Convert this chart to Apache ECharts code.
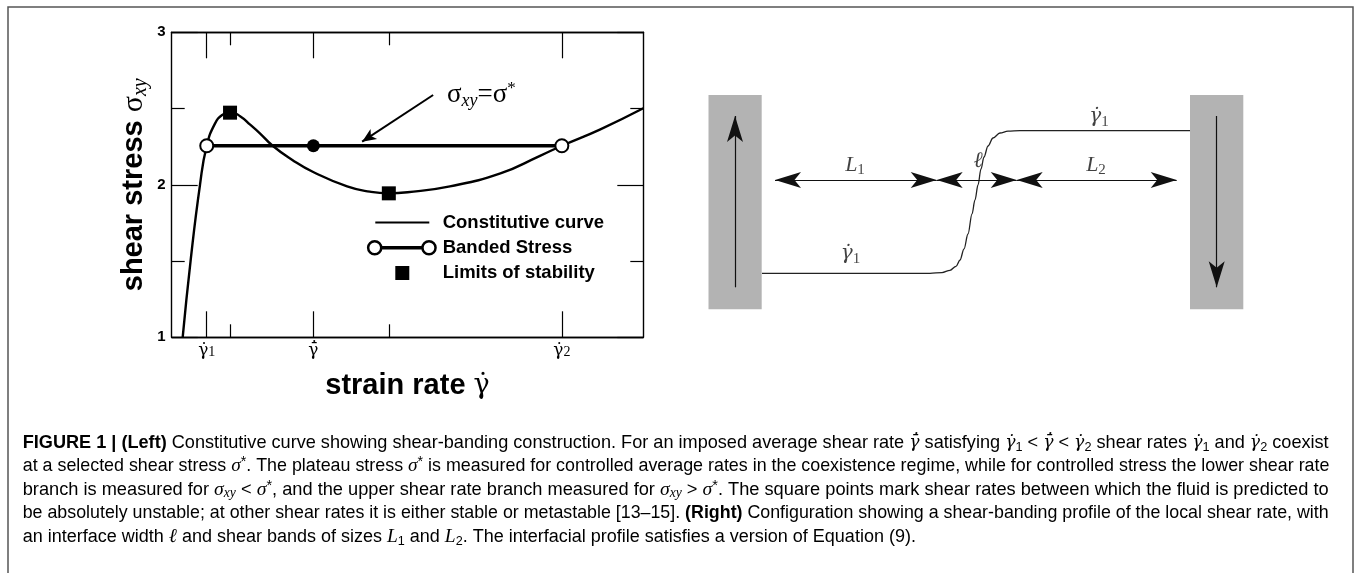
<!DOCTYPE html>
<html>
<head>
<meta charset="utf-8">
<script src="https://cdn.jsdelivr.net/npm/echarts@6.0.0/dist/echarts.min.js"></script>
<style>
html, body { margin: 0; padding: 0; background: #fff; }
#main { width: 1360px; height: 573px; }
</style>
</head>
<body>
<div id="main"></div>
<script>
// left panel: constitutive curve (x: strain rate, y: shear stress)
const rateValues = [0.233, 0.40, 0.60, 0.743, 0.92, 1.08, 1.24, 1.45, 1.67, 1.87, 2.14, 2.55, 3.00, 3.72, 4.20, 4.60, 5.00, 5.90, 6.97, 7.81, 8.273, 9.09, 10.0];
const stressValues = [1.00, 1.50, 2.00, 2.256, 2.403, 2.46, 2.478, 2.45, 2.393, 2.338, 2.256, 2.165, 2.084, 1.99, 1.955, 1.944, 1.951, 1.99, 2.075, 2.19, 2.256, 2.364, 2.502];
const bandRates = [0.743, 3.004, 8.273]; // gamma1, mean, gamma2
const bandStress = 2.256;                 // sigma*
const limitRates = [1.237, 4.604];
const limitStress = [2.473, 1.944];
const rateTickMajor = [0.743, 3.004, 8.273];
const rateTickMinor = [1.237, 4.604];
const rateTickLabels = ['{g|\u03b3\u0307}{s|1}', '{g|\u03b3\u0304\u0307}', '{g|\u03b3\u0307}{s|2}'];
const stressTicks = [1, 2, 3];
const arrowFrom = [5.544, 2.589];
const arrowTo = [4.038, 2.283];
const annoAt = [5.835, 2.589];

// right panel: banding profile schematic (units of the hidden grid)
const wallLeft = [8.5, 490];
const wallRight = [61.7, 543.3];
const wallBottom = [20.7, 20.7];
const wallTop = [235, 235];
const wallArrowX = [35, 516.7];
const wallArrowFrom = [42.7, 214];
const wallArrowTo = [214, 42.7];
const spanStart = [75, 236.7, 316.7];
const spanEnd = [236.7, 316.7, 476.7];
const spanY = 150;
const profileX = [62, 230, 242, 250, 256, 260, 264, 268, 272, 275, 278, 281, 284, 288, 293, 300, 308, 320, 490];
const profileY = [56.7, 56.7, 57.4, 59.7, 63.7, 70, 81, 96, 116, 130, 145, 161, 173, 184, 192, 197, 198.8, 199.3, 199.3];
const tagX = [399, 155, 278, 396, 150.5];
const tagY = [213.5, 165, 169, 165, 76];
const tagText = ['{d|\u03b3\u0307}{s|1}', '{g|L}{s|1}', '{g|\u2113}', '{g|L}{s|2}', '{d|\u03b3\u0307}{s|1}'];

// caption
const captionLines = [
    '{b|FIGURE 1 | (Left)}{n| Constitutive curve showing shear-banding construction. For an imposed average shear rate }{mg|\u03b3\u0304\u0307}{n| satisfying }{mg|\u03b3\u0307}{sn|1}{n| < }{mg|\u03b3\u0304\u0307}{n| < }{mg|\u03b3\u0307}{sn|2}{n| shear rates }{mg|\u03b3\u0307}{sn|1}{n| and }{mg|\u03b3\u0307}{sn|2}{n| coexist}',
    '{n|at a selected shear stress }{m|\u03c3}{sup|*}{n|. The plateau stress }{m|\u03c3}{sup|*}{n| is measured for controlled average rates in the coexistence regime, while for controlled stress the lower shear rate}',
    '{n|branch is measured for }{m|\u03c3}{sub|xy}{n| < }{m|\u03c3}{sup|*}{n|, and the upper shear rate branch measured for }{m|\u03c3}{sub|xy}{n| > }{m|\u03c3}{sup|*}{n|. The square points mark shear rates between which the fluid is predicted to}',
    '{n|be absolutely unstable; at other shear rates it is either stable or metastable }{lk|[13\u201315]}{n|. }{b|(Right)}{n| Configuration showing a shear-banding profile of the local shear rate, with}',
    '{n|an interface width }{m|\u2113}{n| and shear bands of sizes }{m|L}{sn|1}{n| and }{m|L}{sn|2}{n|. The interfacial profile satisfies a version of Equation (9).}'
];
const captionY = [442.7, 465.7, 489.7, 513.3, 536.7];

const SANS = 'Liberation Sans';
const SERIF = 'Liberation Serif';
const MARKS = 'DejaVu Serif';

function captionStyles (k) {
    const f = 17 * k;
    const c = '#2b2b2b';
    return {
        n: { fontFamily: SANS, fontSize: f, color: c, lineHeight: 22 },
        b: { fontFamily: SANS, fontSize: f, fontWeight: 'bold', color: c, lineHeight: 22 },
        lk: { fontFamily: SANS, fontSize: f, color: '#4a86c5', lineHeight: 22 },
        m: { fontFamily: SERIF, fontStyle: 'italic', fontSize: f * 1.08, color: c, lineHeight: 22 },
        mg: { fontFamily: MARKS, fontStyle: 'italic', fontSize: f * 0.95, color: c, lineHeight: 22 },
        sn: { fontFamily: SANS, fontSize: f * 0.7, color: c, lineHeight: 12, verticalAlign: 'bottom' },
        sub: { fontFamily: SERIF, fontStyle: 'italic', fontSize: f * 0.75, color: c, lineHeight: 12, verticalAlign: 'bottom' },
        sup: { fontFamily: SANS, fontSize: f * 0.8, color: c, lineHeight: 12, verticalAlign: 'top' }
    };
}

// stretch the justified lines to the text block width
const captionLeft = 22.7;
const captionWidth = 1307;
const captionScale = captionLines.map((t) => {
    const el = new echarts.graphic.Text({ style: { text: t, rich: captionStyles(1) } });
    return captionWidth / el.getBoundingRect().width;
});
captionScale[4] = (captionScale[0] + captionScale[1] + captionScale[2] + captionScale[3]) / 4;

const axisLine = { show: true, onZero: false, lineStyle: { color: '#000', width: 1.4 } };
const tickStyle = { color: '#000', width: 1.2 };

function rateAxis (pos, ticks, len, withLabels) {
    const axis = {
        type: 'value', gridIndex: 0, position: pos, min: 0, max: 10,
        axisLine: axisLine,
        axisTick: { show: true, inside: true, length: len, customValues: ticks, lineStyle: tickStyle },
        axisLabel: { show: false },
        splitLine: { show: false }
    };
    if (withLabels) {
        axis.axisLabel = {
            show: true, margin: 5, customValues: ticks,
            formatter: (v) => {
                const i = ticks.findIndex((t) => Math.abs(t - v) < 1e-6);
                return i < 0 ? '' : rateTickLabels[i];
            },
            rich: {
                g: { fontFamily: MARKS, fontSize: 17, color: '#000' },
                s: { fontFamily: SERIF, fontSize: 14, color: '#000', verticalAlign: 'bottom', lineHeight: 12 }
            }
        };
        axis.name = '{t|strain rate }{g|\u03b3\u0307}';
        axis.nameLocation = 'middle';
        axis.nameGap = 32;
        axis.nameTextStyle = {
            rich: {
                t: { fontFamily: SANS, fontWeight: 'bold', fontSize: 29, color: '#000', lineHeight: 34 },
                g: { fontFamily: MARKS, fontSize: 27, color: '#000', lineHeight: 34 }
            }
        };
    }
    return axis;
}

function stressAxis (pos, withLabels) {
    const axis = {
        type: 'value', gridIndex: 0, position: pos, min: 1, max: 3, interval: 1,
        axisLine: axisLine,
        axisTick: { show: true, inside: true, length: 26, lineStyle: tickStyle },
        minorTick: { show: true, splitNumber: 2, length: 13, lineStyle: tickStyle },
        axisLabel: { show: false },
        splitLine: { show: false },
        minorSplitLine: { show: false }
    };
    if (withLabels) {
        axis.axisLabel = {
            show: true, margin: 6, fontFamily: SANS, fontWeight: 'bold', fontSize: 15, color: '#000',
            formatter: (v) => (stressTicks.indexOf(v) >= 0 ? String(v) : '')
        };
        axis.name = '{t|shear stress }{s|\u03c3}{sub|xy}';
        axis.nameLocation = 'middle';
        axis.nameRotate = 90;
        axis.nameGap = 21;
        axis.nameTextStyle = {
            rich: {
                t: { fontFamily: SANS, fontWeight: 'bold', fontSize: 29, color: '#000', lineHeight: 34 },
                s: { fontFamily: SERIF, fontSize: 30, color: '#000', lineHeight: 34 },
                sub: { fontFamily: SERIF, fontStyle: 'italic', fontSize: 20, color: '#000', lineHeight: 14, verticalAlign: 'bottom' }
            }
        };
    }
    return axis;
}

const hiddenAxis = (min, max) => ({ type: 'value', gridIndex: 1, min: min, max: max, show: false, splitLine: { show: false } });

const chart = echarts.init(document.getElementById('main'), null, { renderer: 'canvas' });

const option = {
    animation: false,
    backgroundColor: '#fff',
    grid: [
        { left: 171.7, top: 32.3, width: 471.6, height: 305, outerBoundsMode: 'none', containLabel: false },
        { left: 700, top: 80, width: 560, height: 250, outerBoundsMode: 'none', containLabel: false }
    ],
    xAxis: [
        rateAxis('bottom', rateTickMajor, 26, true),
        rateAxis('bottom', rateTickMinor, 13, false),
        rateAxis('top', rateTickMajor, 26, false),
        rateAxis('top', rateTickMinor, 13, false),
        hiddenAxis(0, 560)
    ],
    yAxis: [
        stressAxis('left', true),
        stressAxis('right', false),
        hiddenAxis(0, 250)
    ],
    legend: {
        orient: 'vertical', left: 366.7, top: 213, padding: 0,
        itemWidth: 71, itemHeight: 16, itemGap: 6.25,
        selectedMode: false,
        textStyle: { fontFamily: SANS, fontWeight: 'bold', fontSize: 18.5, color: '#000' },
        data: [
            { name: 'Constitutive curve', icon: 'path://M0,0 M71,16 M8.6,6.9 H62.6 V9.1 H8.6 Z', itemStyle: { color: '#000', borderWidth: 0, opacity: 1 } },
            { name: 'Banded Stress', icon: 'path://M0,0 M71,16 M15.5,6.3 H54.8 V9.7 H15.5 Z M0.2,8 A7.8,7.8 0 1,1 15.8,8 A7.8,7.8 0 1,1 0.2,8 Z M2.7,8 A5.3,5.3 0 1,0 13.3,8 A5.3,5.3 0 1,0 2.7,8 Z M54.5,8 A7.8,7.8 0 1,1 70.1,8 A7.8,7.8 0 1,1 54.5,8 Z M57,8 A5.3,5.3 0 1,0 67.6,8 A5.3,5.3 0 1,0 57,8 Z', itemStyle: { color: '#000', borderWidth: 0, opacity: 1 } },
            { name: 'Limits of stability', icon: 'path://M0,0 M71,16 M28.6,1 H42.6 V15 H28.6 Z', itemStyle: { color: '#000', borderWidth: 0, opacity: 1 } }
        ]
    },
    series: [
        {
            name: 'Constitutive curve', type: 'line', xAxisIndex: 0, yAxisIndex: 0,
            data: rateValues.map((x, i) => [x, stressValues[i]]),
            smooth: 0.5, showSymbol: false, symbol: 'none', clip: true, z: 2,
            lineStyle: { color: '#000', width: 2.4 }, itemStyle: { color: '#000' }, silent: true
        },
        {
            name: 'Banded Stress', type: 'line', xAxisIndex: 0, yAxisIndex: 0, z: 3,
            data: [
                [bandRates[0], bandStress],
                { value: [bandRates[1], bandStress], symbol: 'circle', symbolSize: 13, itemStyle: { color: '#000', borderWidth: 0 } },
                [bandRates[2], bandStress]
            ],
            symbol: 'emptyCircle', symbolSize: 13, showSymbol: true,
            lineStyle: { color: '#000', width: 3.6 },
            itemStyle: { color: '#000', borderColor: '#000', borderWidth: 2.4, opacity: 1 },
            silent: true,
            markLine: {
                silent: true, animation: false,
                symbol: ['none', 'arrow'], symbolSize: [9, 14],
                label: { show: false },
                lineStyle: { type: 'solid', color: '#000', width: 2 },
                data: [[{ coord: arrowFrom }, { coord: arrowTo }]]
            },
            markPoint: {
                silent: true, animation: false, symbol: 'circle', symbolSize: 0,
                data: [{ coord: annoAt }],
                label: {
                    show: true, position: 'inside', align: 'left', verticalAlign: 'middle',
                    formatter: '{s|\u03c3}{sub|xy}{s|=\u03c3}{sup|*}',
                    rich: {
                        s: { fontFamily: SERIF, fontSize: 27, color: '#000', lineHeight: 30 },
                        sub: { fontFamily: SERIF, fontStyle: 'italic', fontSize: 18, color: '#000', lineHeight: 12, verticalAlign: 'bottom' },
                        sup: { fontFamily: SERIF, fontSize: 17, color: '#000', lineHeight: 12, verticalAlign: 'top' }
                    }
                }
            }
        },
        {
            name: 'Limits of stability', type: 'scatter', xAxisIndex: 0, yAxisIndex: 0, z: 4,
            data: limitRates.map((x, i) => [x, limitStress[i]]),
            symbol: 'rect', symbolSize: 14, itemStyle: { color: '#000', opacity: 1 }, silent: true
        },
        {
            type: 'custom', xAxisIndex: 4, yAxisIndex: 2, z: 1, silent: true,
            data: wallLeft.map((x, i) => [x, wallRight[i], wallBottom[i], wallTop[i]]),
            encode: { x: [0, 1], y: [2, 3] },
            renderItem: (params, api) => {
                const p0 = api.coord([api.value(0), api.value(3)]);
                const p1 = api.coord([api.value(1), api.value(2)]);
                return {
                    type: 'rect',
                    shape: { x: p0[0], y: p0[1], width: p1[0] - p0[0], height: p1[1] - p0[1] },
                    style: { fill: '#b3b3b3' }
                };
            }
        },
        {
            type: 'line', xAxisIndex: 4, yAxisIndex: 2, z: 3, silent: true,
            data: profileX.map((x, i) => [x, profileY[i]]),
            smooth: 0.35, smoothMonotone: 'x', symbol: 'none', showSymbol: false,
            lineStyle: { color: '#222', width: 1.3 },
            markLine: {
                silent: true, animation: false,
                symbol: ['arrow', 'arrow'], symbolSize: [12, 26],
                label: { show: false },
                lineStyle: { type: 'solid', color: '#111', width: 1.2 },
                data: spanStart.map((x, i) => [{ coord: [x, spanY] }, { coord: [spanEnd[i], spanY] }]).concat(
                    wallArrowX.map((x, i) => [
                        { coord: [x, wallArrowFrom[i]], symbol: 'none' },
                        { coord: [x, wallArrowTo[i]], symbol: 'arrow' }
                    ])
                )
            }
        },
        {
            type: 'scatter', xAxisIndex: 4, yAxisIndex: 2, z: 5, silent: true,
            data: tagX.map((x, i) => [x, tagY[i]]),
            symbolSize: 1, itemStyle: { color: 'rgba(0,0,0,0)' },
            label: {
                show: true, position: 'inside',
                formatter: (p) => tagText[p.dataIndex],
                rich: {
                    g: { fontFamily: SERIF, fontStyle: 'italic', fontSize: 22, color: '#111', lineHeight: 26 },
                    d: { fontFamily: MARKS, fontStyle: 'italic', fontSize: 20, color: '#111', lineHeight: 26 },
                    s: { fontFamily: SERIF, fontSize: 15, color: '#111', lineHeight: 12, verticalAlign: 'bottom' }
                }
            }
        }
    ],
    graphic: [
        {
            type: 'rect', silent: true, z: 0,
            shape: { x: 8, y: 7, width: 1345, height: 620 },
            style: { fill: 'none', stroke: '#555', lineWidth: 1.5 }
        }
    ].concat(captionLines.map((t, i) => ({
        type: 'text', silent: true, x: captionLeft, y: captionY[i],
        style: {
            text: t, rich: captionStyles(captionScale[i]),
            align: 'left', verticalAlign: 'middle', textAlign: 'left', textVerticalAlign: 'middle'
        }
    })))
};

chart.setOption(option);
</script>
</body>
</html>
